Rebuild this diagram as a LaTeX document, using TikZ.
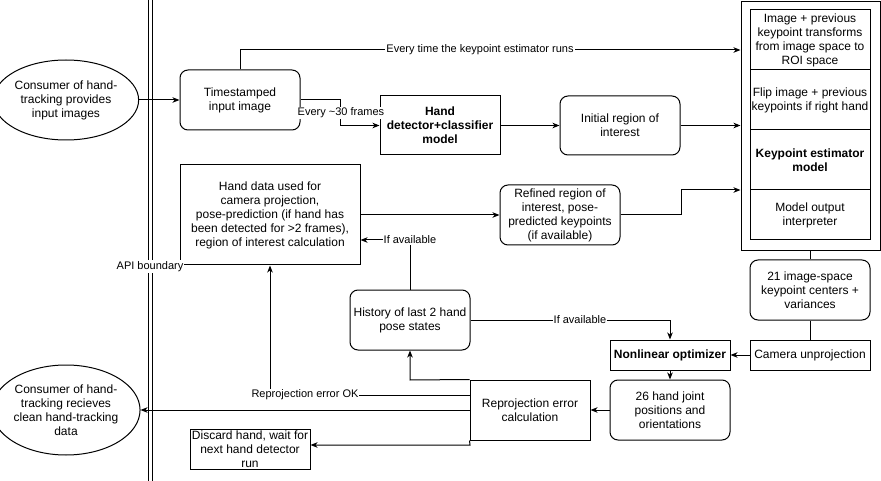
\documentclass[tikz,border=0pt]{standalone}
\usepackage{fontspec}
\setmainfont{Liberation Sans}
\usetikzlibrary{arrows.meta,shapes.geometric}
\tikzset{
  x=1pt, y=-1pt,
  box/.style={draw, line width=1pt, minimum width=120pt, minimum height=60pt, inner sep=0pt, align=center, font=\fontsize{12}{14}\selectfont},
  rbox/.style={box, rounded corners=8pt},
  oval/.style={draw, line width=1pt, ellipse, inner sep=0pt, align=center, minimum width=130pt, font=\fontsize{12}{14}\selectfont},
  lbl/.style={fill=white, inner sep=1pt, font=\fontsize{11}{13}\selectfont},
  arr/.style={line width=1pt, -{Stealth[length=7pt,width=5.5pt,inset=2pt]}},
  ln/.style={line width=1pt},
}
\begin{document}
\begin{tikzpicture}
\useasboundingbox (0,0) rectangle (881,481);
\fill[white] (0,0) rectangle (881,481);

% API boundary double line
\coordinate (apitop1) at (148,0);
\coordinate (apibot1) at (148,481);
\coordinate (apitop2) at (152,0);
\coordinate (apibot2) at (152,481);
\draw[ln] (apitop1) -- (apibot1);
\draw[ln] (apitop2) -- (apibot2);

% nodes
\node[oval, minimum height=80pt] (src) at (66,100) {Consumer of hand-\\tracking provides\\input images};
\node[oval, minimum height=90pt] (dst) at (66,410) {Consumer of hand-\\tracking recieves\\clean hand-tracking\\data};
\node[rbox] (ts) at (240,100) {Timestamped\\input image};
\node[box, minimum height=59pt] (det) at (440,125.5) {\bfseries Hand\\\bfseries detector+classifier\\\bfseries model};
\node[rbox, minimum height=59pt] (roi) at (620,125.5) {Initial region of\\interest};
\node[box, minimum width=180pt, minimum height=100pt] (hd) at (270,215) {Hand data used for\\camera projection,\\pose-prediction (if hand has\\been detected for >2 frames),\\region of interest calculation};
\node[rbox] (ref) at (560,215) {Refined region of\\interest, pose-\\predicted keypoints\\(if available)};
\node[rbox] (hist) at (410,320) {History of last 2 hand\\pose states};

\node[draw, line width=1pt, minimum width=139.5pt, minimum height=249pt, inner sep=0pt, anchor=north west] (outer) at (740.5,1) {};
\node[box] (c1) at (810,40) {Image + previous\\keypoint transforms\\from image space to\\ROI space};
\node[box] (c2) at (810,100) {Flip image + previous\\keypoints if right hand};
\node[box] (c3) at (810,160) {\bfseries Keypoint estimator\\\bfseries model};
\node[box, minimum height=50pt] (c4) at (810,215) {Model output\\interpreter};

\node[rbox] (k21) at (810,290) {21 image-space\\keypoint centers +\\variances};
\node[box, minimum height=30pt] (cam) at (810,355) {Camera unprojection};
\node[box, minimum height=30pt] (nl) at (670,355) {\bfseries Nonlinear optimizer};
\node[rbox] (j26) at (670,410) {26 hand joint\\positions and\\orientations};
\node[box] (rep) at (530,410) {Reprojection error\\calculation};
\node[box, minimum height=40pt] (disc) at (250,449.5) {Discard hand, wait for\\next hand detector\\run};

% connectors
\draw[arr] (src.east) -- (ts.west);
\draw[arr] (ts.north) -- (240,50) -- (outer.west |- 0,50);
\draw[arr] (ts.east) -- (340,100) -- (340,125.5) -- (det.west);
\draw[arr] (det.east) -- (roi.west);
\draw[arr] (roi.east) -- (outer.west |- roi.east);
\draw[arr] (hd.east) -- (ref.west);
\draw[arr] (ref.east) -- (681,215) -- (681,190) -- (outer.west |- 0,190);
\draw[arr] (hist.north) -- (410,240) -- (hd.east |- 0,240);
\draw[arr] (hist.east) -- (670,320) -- (nl.north);
\draw[ln] (outer.south -| k21.north) -- (k21.north);
\draw[ln] (k21.south) -- (cam.north);
\draw[arr] (cam.west) -- (nl.east);
\draw[arr] (nl.south) -- (j26.north);
\draw[arr] (j26.west) -- (rep.east);
\draw[arr] (rep.north west) -- (410,380) -- (hist.south);
\draw[arr] (rep.west |- 0,395) -- (270,395) -- (hd.south);
\draw[arr] (rep.west) -- (dst.east);
\draw[arr] (rep.south west) -- (470,445) -- (disc.east |- 0,445);

% labels
\node[lbl] (lkp) at (480,50) {Every time the keypoint estimator runs};
\node[lbl] (l30) at (341,113) {Every \textasciitilde30 frames};
\node[lbl] (lia1) at (410,240) {If available};
\node[lbl] (lia2) at (580,320) {If available};
\node[lbl] (lok) at (305,395) {Reprojection error OK};
\node[lbl] (lapi) at (150,266.5) {API boundary};
\end{tikzpicture}
\end{document}
